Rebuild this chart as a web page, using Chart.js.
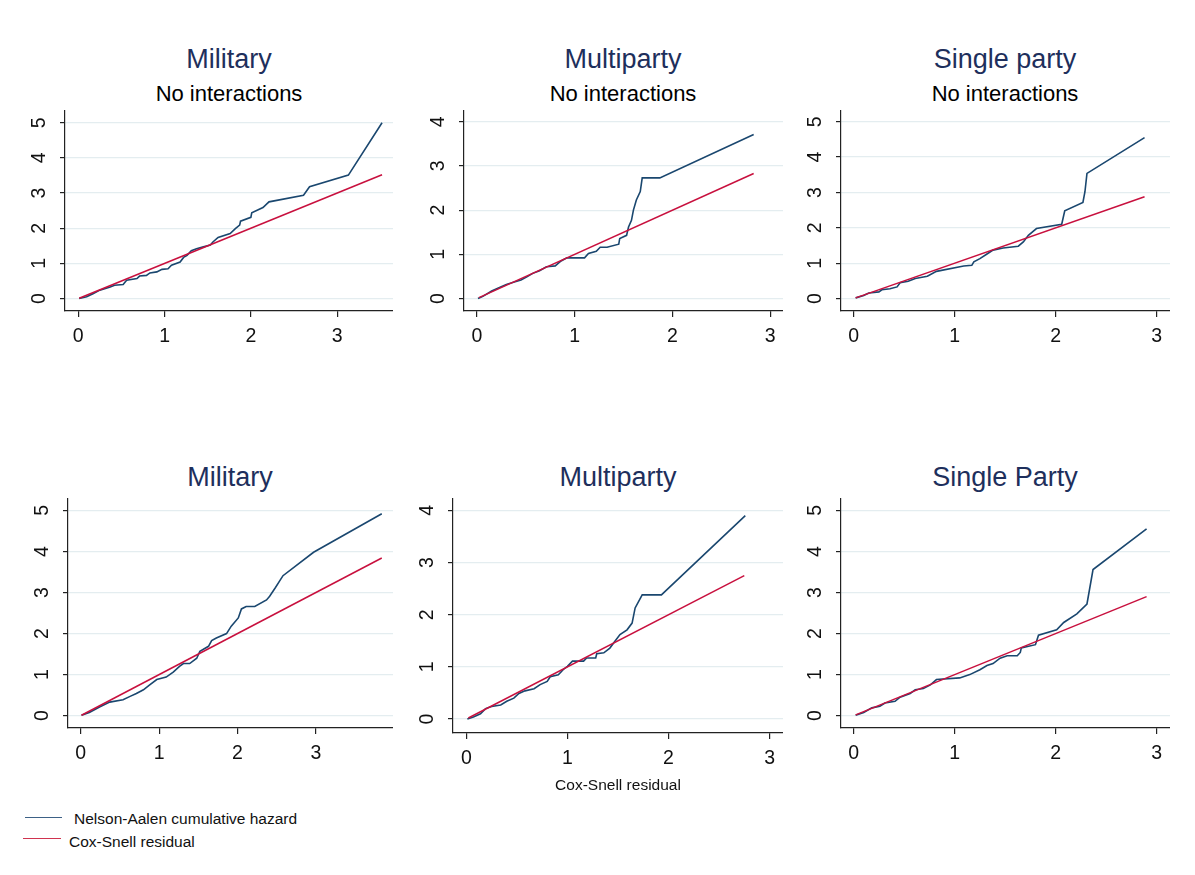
<!DOCTYPE html>
<html>
<head>
<meta charset="utf-8">
<script src="https://cdn.jsdelivr.net/npm/chart.js@4/dist/chart.umd.min.js"></script>
<style>
  html, body { margin: 0; padding: 0; background: #fff; }
  body { width: 1195px; height: 875px; position: relative; overflow: hidden;
         font-family: "Liberation Sans", Arial, sans-serif; }
  canvas { position: absolute; }
  .ttl { position: absolute; white-space: nowrap; line-height: 1; transform: translateX(-50%); }
  .main { font-size: 27px; color: #1e2f5c; }
  .sub { font-size: 22px; color: #000; }
  .leg { position: absolute; font-size: 15.5px; line-height: 1; color: #111; white-space: nowrap; }
  .swatch { position: absolute; height: 0; border-top: 1.6px solid; }
</style>
</head>
<body>

<div class="ttl main" style="left:229px; top:46px;">Military</div>
<div class="ttl sub"  style="left:229px; top:83px;">No interactions</div>
<div class="ttl main" style="left:623px; top:46px;">Multiparty</div>
<div class="ttl sub"  style="left:623px; top:83px;">No interactions</div>
<div class="ttl main" style="left:1005px; top:46px;">Single party</div>
<div class="ttl sub"  style="left:1005px; top:83px;">No interactions</div>

<div class="ttl main" style="left:230px; top:464px;">Military</div>
<div class="ttl main" style="left:618px; top:464px;">Multiparty</div>
<div class="ttl main" style="left:1005px; top:464px;">Single Party</div>

<div class="swatch" style="left:25px; width:37px; top:817px; border-color:#3d6186;"></div>
<div class="leg" style="left:74px; top:811px;">Nelson-Aalen cumulative hazard</div>
<div class="swatch" style="left:23px; width:38px; top:838px; border-color:#d0334f;"></div>
<div class="leg" style="left:69px; top:834px;">Cox-Snell residual</div>

<script>
// Tick values
const xTicks = [0, 1, 2, 3];
const yTicksTo5 = [0, 1, 2, 3, 4, 5];
const yTicksTo4 = [0, 1, 2, 3, 4];

// Military, no interactions: Cox-Snell residual vs Nelson-Aalen cumulative hazard
const milNoIntResid  = [0.01,0.097,0.17,0.25,0.37,0.42,0.52,0.56,0.68,0.71,0.79,0.83,0.91,0.97,1.04,1.08,1.18,1.22,1.26,1.31,1.37,1.45,1.53,1.56,1.62,1.76,1.82,1.87,1.88,2.0,2.01,2.14,2.21,2.61,2.68,3.13,3.52];
const milNoIntHazard = [0,0.05,0.14,0.24,0.33,0.38,0.40,0.52,0.57,0.64,0.66,0.73,0.76,0.83,0.85,0.95,1.04,1.17,1.23,1.36,1.42,1.47,1.52,1.61,1.74,1.85,1.99,2.09,2.20,2.31,2.44,2.59,2.75,2.94,3.18,3.51,5.0];
const milNoIntDiag   = [0.01, 3.52];

// Multiparty, no interactions
const multiNoIntResid  = [0.01,0.06,0.15,0.23,0.30,0.39,0.45,0.51,0.57,0.64,0.71,0.80,0.86,0.92,1.10,1.14,1.22,1.26,1.33,1.45,1.46,1.53,1.55,1.58,1.60,1.63,1.67,1.69,1.87,2.83];
const multiNoIntHazard = [0,0.05,0.17,0.25,0.32,0.38,0.42,0.49,0.57,0.63,0.72,0.74,0.85,0.92,0.92,1.02,1.07,1.16,1.16,1.23,1.36,1.43,1.62,1.77,2.0,2.23,2.42,2.73,2.73,3.71];
const multiNoIntDiag   = [0.02, 2.83];

// Single party, no interactions
const singleNoIntResid  = [0.02,0.10,0.15,0.25,0.28,0.36,0.43,0.46,0.54,0.61,0.73,0.82,1.09,1.17,1.19,1.25,1.32,1.38,1.48,1.63,1.68,1.73,1.81,2.06,2.09,2.27,2.29,2.31,2.88];
const singleNoIntHazard = [0.02,0.09,0.16,0.19,0.25,0.28,0.33,0.45,0.49,0.57,0.63,0.77,0.92,0.94,1.04,1.13,1.26,1.37,1.43,1.48,1.60,1.79,1.98,2.10,2.48,2.72,3.02,3.54,4.55];
const singleNoIntDiag   = [0.02, 2.88];

// Military
const milResid  = [0.01,0.11,0.24,0.37,0.54,0.63,0.71,0.80,0.88,0.97,1.09,1.18,1.26,1.31,1.39,1.48,1.52,1.63,1.67,1.73,1.86,1.92,2.01,2.05,2.11,2.22,2.37,2.41,2.48,2.58,2.97,3.84];
const milHazard = [0.01,0.08,0.21,0.33,0.39,0.47,0.54,0.63,0.75,0.88,0.94,1.06,1.20,1.27,1.27,1.40,1.57,1.69,1.83,1.89,2.0,2.18,2.38,2.60,2.66,2.66,2.82,2.91,3.11,3.41,3.98,4.92];
const milDiag   = [0.01, 3.84];

// Multiparty
const multiResid  = [0.01,0.07,0.14,0.19,0.25,0.34,0.40,0.47,0.52,0.58,0.67,0.73,0.80,0.83,0.91,0.96,1.00,1.05,1.16,1.19,1.28,1.29,1.36,1.42,1.47,1.52,1.59,1.64,1.67,1.74,1.93,2.76];
const multiHazard = [0,0.04,0.10,0.20,0.24,0.27,0.34,0.40,0.49,0.54,0.58,0.66,0.72,0.81,0.85,0.95,1.01,1.11,1.11,1.17,1.17,1.25,1.27,1.36,1.49,1.62,1.71,1.84,2.13,2.38,2.38,3.90];
const multiDiag   = [0.02, 2.75];

// Single Party
const singleResid  = [0.02,0.10,0.18,0.26,0.31,0.41,0.46,0.56,0.61,0.69,0.76,0.82,1.05,1.15,1.25,1.32,1.38,1.45,1.52,1.62,1.65,1.66,1.80,1.83,2.01,2.08,2.21,2.31,2.37,2.90];
const singleHazard = [0.01,0.08,0.19,0.23,0.31,0.35,0.45,0.54,0.63,0.66,0.75,0.88,0.92,1.00,1.12,1.22,1.27,1.40,1.46,1.46,1.54,1.65,1.73,1.96,2.09,2.27,2.48,2.72,3.56,4.55];
const singleDiag   = [0.02, 2.90];

const BLUE = '#1a476f';
const RED = '#c8103e';
const FONT = '"Liberation Sans", Arial, sans-serif';
const TICK_SIZE = 19.5;

// Plot-region boxes (page pixels) and axis ranges for the 2x3 grid
const panels = [
  { box: {l: 65,  t: 110, r: 393,  b: 311}, x: [-0.154, 3.647], y: [-0.353, 5.362], yTicks: yTicksTo5,
    resid: milNoIntResid, hazard: milNoIntHazard, diag: milNoIntDiag },
  { box: {l: 464, t: 110, r: 783,  b: 311}, x: [-0.133, 3.13],  y: [-0.281, 4.265], yTicks: yTicksTo4,
    resid: multiNoIntResid, hazard: multiNoIntHazard, diag: multiNoIntDiag },
  { box: {l: 841, t: 110, r: 1170, b: 311}, x: [-0.125, 3.132], y: [-0.351, 5.331], yTicks: yTicksTo5,
    resid: singleNoIntResid, hazard: singleNoIntHazard, diag: singleNoIntDiag },
  { box: {l: 68,  t: 498, r: 393,  b: 728}, x: [-0.162, 3.983], y: [-0.30, 5.302],  yTicks: yTicksTo5,
    resid: milResid, hazard: milHazard, diag: milDiag },
  { box: {l: 453, t: 498, r: 783,  b: 733}, x: [-0.132, 3.133], y: [-0.268, 4.238], yTicks: yTicksTo4,
    resid: multiResid, hazard: multiHazard, diag: multiDiag, xTitle: 'Cox-Snell residual', bottom: 800 },
  { box: {l: 841, t: 498, r: 1170, b: 728}, x: [-0.125, 3.132], y: [-0.30, 5.302],  yTicks: yTicksTo5,
    resid: singleResid, hazard: singleHazard, diag: singleDiag }
];

// Stata-style vertical y tick labels
const verticalYLabels = {
  id: 'verticalYLabels',
  afterDraw(chart) {
    const s = chart.scales.y, ctx = chart.ctx;
    ctx.save();
    ctx.font = TICK_SIZE + 'px ' + FONT;
    ctx.fillStyle = '#111';
    ctx.textAlign = 'center';
    ctx.textBaseline = 'middle';
    s.ticks.forEach(t => {
      ctx.save();
      ctx.translate(s.right - 25, s.getPixelForValue(t.value));
      ctx.rotate(-Math.PI / 2);
      ctx.fillText(String(t.value), 0, 0);
      ctx.restore();
    });
    ctx.restore();
  }
};

function zeroPad(s) { s.paddingLeft = s.paddingRight = s.paddingTop = s.paddingBottom = 0; }

panels.forEach(p => {
  const bx = p.box;
  const cl = bx.l - 70, ct = bx.t;
  const w = bx.r - cl;
  const h = (p.bottom || bx.b + 45) - ct;
  const c = document.createElement('canvas');
  c.width = w; c.height = h;
  c.style.left = cl + 'px'; c.style.top = ct + 'px';
  c.style.width = w + 'px'; c.style.height = h + 'px';
  document.body.appendChild(c);

  new Chart(c, {
    type: 'scatter',
    data: {
      datasets: [
        { label: 'Nelson-Aalen cumulative hazard',
          data: p.resid.map((v, i) => ({ x: v, y: p.hazard[i] })),
          showLine: true, borderColor: BLUE, borderWidth: 1.6, pointRadius: 0, order: 2 },
        { label: 'Cox-Snell residual',
          data: p.diag.map(v => ({ x: v, y: v })),
          showLine: true, borderColor: RED, borderWidth: 1.5, pointRadius: 0, order: 1 }
      ]
    },
    options: {
      responsive: false, animation: false, devicePixelRatio: 1,
      layout: { padding: 0 },
      plugins: { legend: { display: false }, tooltip: { enabled: false } },
      scales: {
        x: {
          type: 'linear', min: p.x[0], max: p.x[1],
          afterBuildTicks: s => { s.ticks = xTicks.map(v => ({ value: v })); },
          afterFit: s => { s.height = h - (bx.b - ct); zeroPad(s); },
          grid: { drawOnChartArea: false, drawTicks: true, tickLength: 6, tickColor: '#222', color: '#222', lineWidth: 1.2 },
          border: { display: true, color: '#222', width: 1.2 },
          ticks: { font: { family: FONT, size: TICK_SIZE }, color: '#111', padding: 8,
                   maxRotation: 0, autoSkip: false, callback: v => String(v) },
          title: p.xTitle
            ? { display: true, text: p.xTitle, color: '#111', font: { family: FONT, size: 15.5 },
                padding: { top: 0, bottom: 5 } }
            : { display: false }
        },
        y: {
          type: 'linear', min: p.y[0], max: p.y[1],
          afterBuildTicks: s => { s.ticks = p.yTicks.map(v => ({ value: v })); },
          afterFit: s => { s.width = bx.l - cl; zeroPad(s); },
          grid: { drawOnChartArea: true, drawTicks: true, tickLength: 5, tickColor: '#222',
                  color: '#e4edf0', lineWidth: 1.2 },
          border: { display: true, color: '#222', width: 1.2 },
          ticks: { display: false }
        }
      }
    },
    plugins: [verticalYLabels]
  });
});
</script>
</body>
</html>
